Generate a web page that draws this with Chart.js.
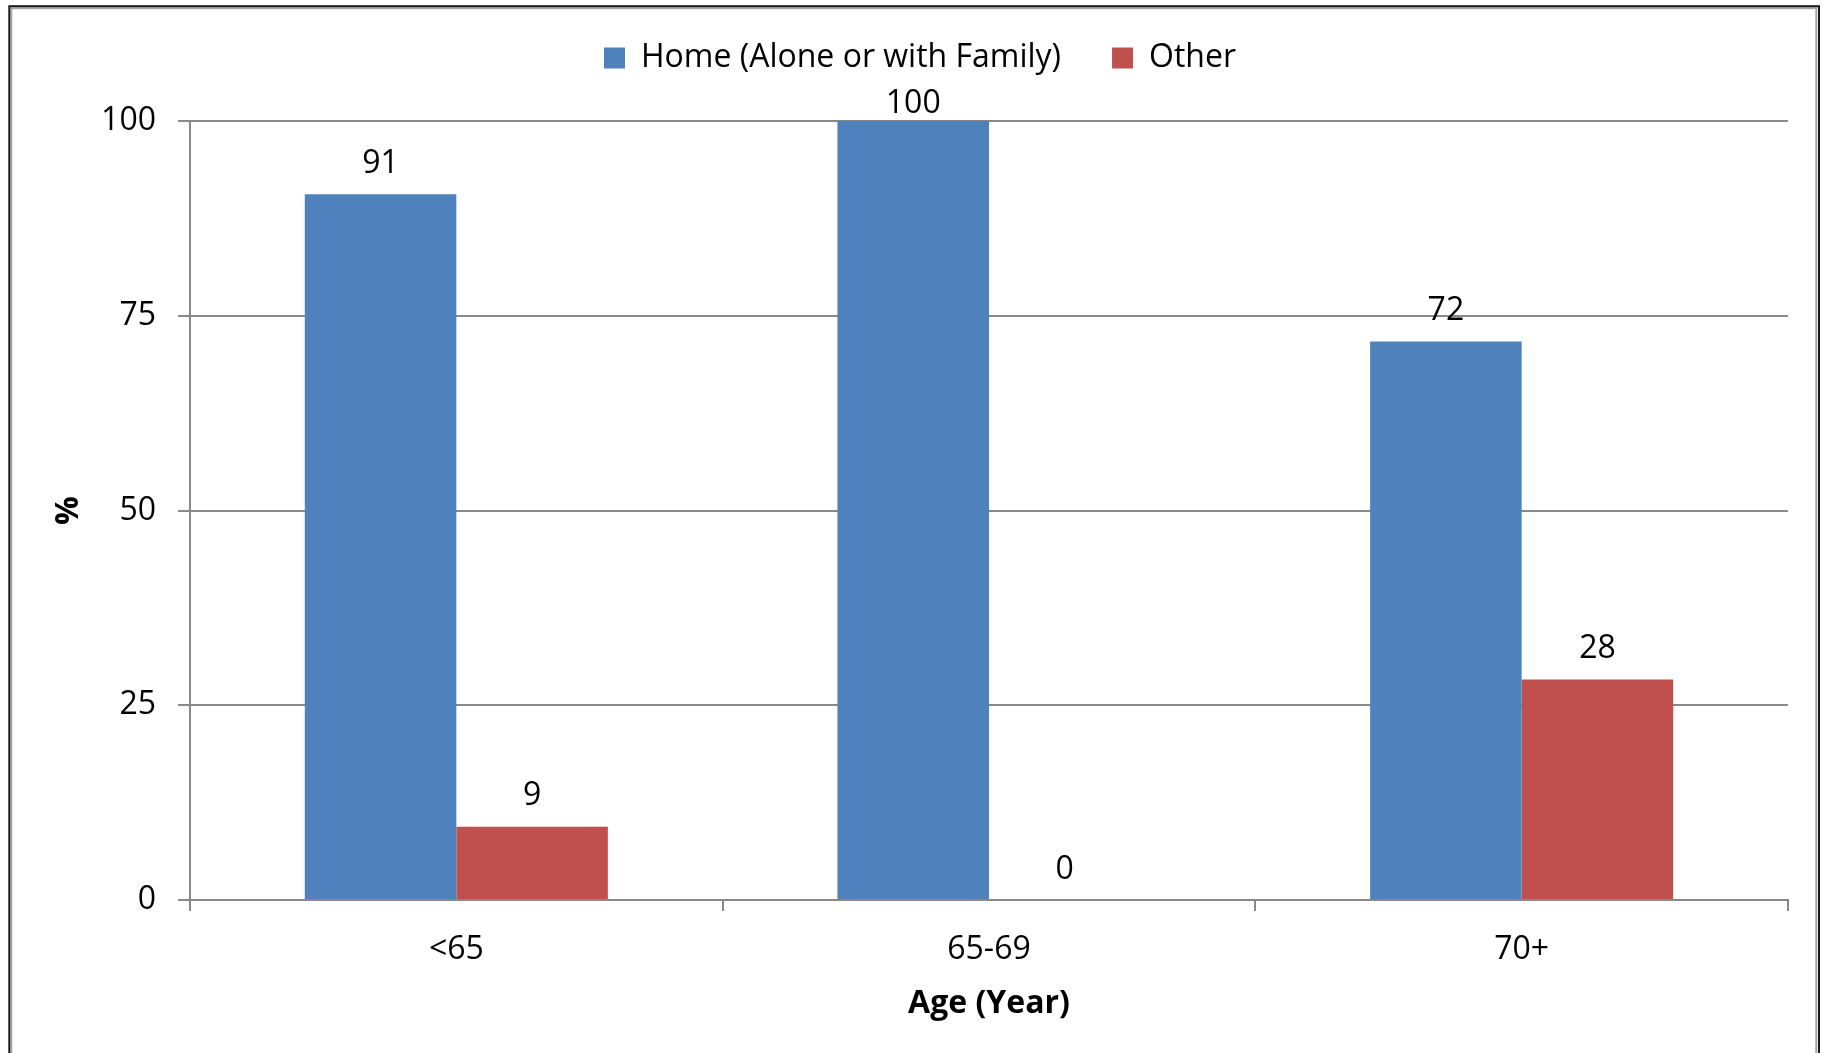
<!DOCTYPE html>
<html>
<head>
<meta charset="utf-8">
<script src="https://cdn.jsdelivr.net/npm/chart.js@4/dist/chart.umd.min.js"></script>
<style>
html,body{margin:0;padding:0;background:#fff;}
canvas{display:block;}
</style>
</head>
<body>
<canvas id="c" width="1823" height="1053"></canvas>
<script>
const categories = ["<65", "65-69", "70+"];
const homeValues = [90.6, 100, 71.7];
const otherValues = [9.4, 0, 28.3];
const seriesNames = ["Home (Alone or with Family)", "Other"];
const yTicks = [0, 25, 50, 75, 100];
const xTitle = "Age (Year)";
const yTitle = "%";

const FONT = "'Open Sans', 'Noto Sans', sans-serif";
const LEGEND_PAD = 51;

const framePlugin = {
  id: 'frame',
  beforeDraw(chart) {
    const ctx = chart.ctx;
    ctx.save();
    ctx.fillStyle = '#fff';
    ctx.fillRect(0, 0, chart.width, chart.height);
    ctx.lineWidth = 2;
    ctx.strokeStyle = '#a6a6a6';
    ctx.strokeRect(11.3, 8.2, 1805, 1100);
    ctx.strokeStyle = '#1a1a1a';
    ctx.strokeRect(9.3, 6.2, 1809.7, 1100);
    ctx.restore();
  }
};

const legendLayoutPlugin = {
  id: 'legendLayout',
  beforeLayout(chart) {
    const lg = chart.legend;
    if (lg && !lg._patched) {
      const orig = lg.fit.bind(lg);
      lg.fit = function () { orig(); if (this.isHorizontal()) this.height = 121; };
      lg._patched = true;
    }
  },
  afterLayout(chart) {
    const lg = chart.legend;
    if (!lg) return;
    const dy = -9 - lg.top;
    lg.top += dy; lg.bottom += dy;
    const dx = 26;
    lg.left += dx; lg.right += dx;
  }
};

const labelPlugin = {
  id: 'valueLabels',
  afterDatasetsDraw(chart) {
    const ctx = chart.ctx;
    const top = chart.chartArea.top;
    ctx.save();
    ctx.font = "32px " + FONT;
    ctx.fillStyle = '#000';
    ctx.textAlign = 'center';
    ctx.textBaseline = 'middle';
    chart.data.datasets.forEach((ds, di) => {
      const meta = chart.getDatasetMeta(di);
      meta.data.forEach((bar, i) => {
        const y = Math.max(bar.y - 30.5, top - 17);
        ctx.fillText(String(Math.round(ds.data[i])), bar.x, y);
      });
    });
    ctx.restore();
  }
};

new Chart(document.getElementById('c'), {
  type: 'bar',
  data: {
    labels: categories,
    datasets: [
      { label: seriesNames[0], data: homeValues, backgroundColor: '#4F81BD', borderWidth: 0 },
      { label: seriesNames[1], data: otherValues, backgroundColor: '#C0504D', borderWidth: 0 }
    ]
  },
  options: {
    responsive: false,
    devicePixelRatio: 1,
    animation: false,
    layout: { padding: { top: 0, left: 0, right: 35, bottom: 0 } },
    datasets: { bar: { categoryPercentage: 0.569, barPercentage: 1.0 } },
    plugins: {
      legend: {
        position: 'top',
        labels: {
          font: { family: FONT, size: 32 },
          color: '#000',
          boxWidth: 21,
          boxHeight: 21,
          padding: LEGEND_PAD
        }
      },
      tooltip: { enabled: false }
    },
    scales: {
      x: {
        grid: { display: true, drawOnChartArea: false, drawTicks: true, tickLength: 11, color: '#898989', lineWidth: 2, offset: true },
        border: { display: true, color: '#898989', width: 2 },
        ticks: { font: { family: FONT, size: 32 }, color: '#000', padding: 20 },
        title: { display: true, text: xTitle, font: { family: FONT, size: 32, weight: 'bold' }, color: '#000', padding: { top: 4, bottom: 30 } },
        afterFit(scale) { scale.height = 153; }
      },
      y: {
        min: 0, max: 100,
        afterBuildTicks(scale) { scale.ticks = yTicks.map(v => ({ value: v })); },
        grid: { color: '#898989', lineWidth: 2, tickLength: 12, drawTicks: true },
        border: { display: true, color: '#898989', width: 2 },
        ticks: { font: { family: FONT, size: 32 }, color: '#000', padding: 22 },
        title: { display: true, text: yTitle, font: { family: FONT, size: 32, weight: 'bold' }, color: '#000', padding: { top: 50, bottom: 0 } },
        afterFit(scale) { scale.width = 190; }
      }
    }
  },
  plugins: [framePlugin, legendLayoutPlugin, labelPlugin]
});
</script>
</body>
</html>
